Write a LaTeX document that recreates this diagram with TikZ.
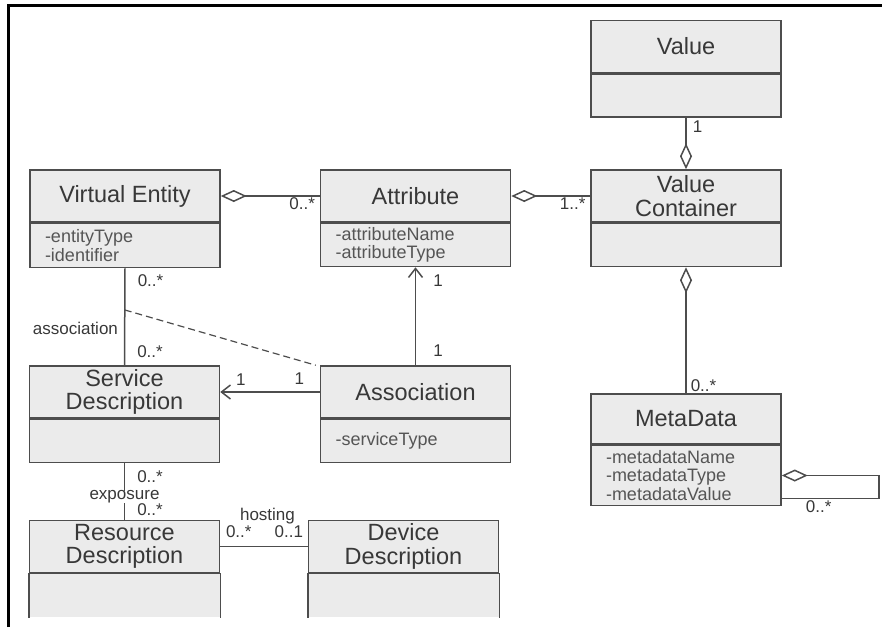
\documentclass[tikz,border=0pt]{standalone}
\usepackage{fontspec}
\setmainfont{Liberation Sans}
\usepackage{xcolor}
\usepackage{tikz}
\usetikzlibrary{positioning,arrows.meta}

\definecolor{boxfill}{HTML}{EBEBEB}
\definecolor{linec}{HTML}{4D4D4D}
\definecolor{textc}{HTML}{383838}
\definecolor{attc}{HTML}{555555}

\newcommand{\clsfont}{\fontsize{23.5}{23.5}\selectfont}
\newcommand{\attfont}{\fontsize{18}{18.5}\selectfont}
\newcommand{\mulfont}{\fontsize{17}{18}\selectfont}

\begin{document}
\begin{tikzpicture}[x=1pt, y=-1pt,
    hd/.style      ={draw=linec, fill=boxfill, line width=1.5pt, minimum width=190pt,
                     minimum height=52pt, inner sep=0pt, align=center,
                     font=\clsfont, text=textc},          % class name
    bd/.style      ={hd, minimum height=43pt, text width=160pt, align=left,
                     font=\attfont, text=attc},          % attribute part
    openbd/.style  ={bd, draw=none},                     % cut off at the bottom
    side/.style    ={draw=linec, line width=1.5pt},
    conn/.style    ={draw=linec, line width=1.5pt},
    agg/.style     ={conn, {Diamond[fill=white, length=26pt, width=12pt]}-},
    nav/.style     ={conn, -{Straight Barb[length=9pt, width=14pt]}},
    dashline/.style={conn, line width=1.2pt, dash pattern=on 7pt off 4pt},
    mult/.style    ={font=\mulfont, text=textc, inner sep=1pt},
    frame/.style   ={draw=black, line width=3pt}
  ]
    \useasboundingbox (0,0) rectangle (882,627);
    \draw[frame] (8.5,627) -- (8.5,5.5) -- (882,5.5);

    % --- classes ---
    \node[hd] (value) at (686,46.5) {Value};
    \node[bd, below=0pt of value] (value-b) {};
    \node[hd] (ve) at (125,196) {Virtual Entity};
    \node[bd, below=0pt of ve, minimum height=44pt] (ve-b) {-entityType\\-identifier};
    \node[hd] (attr) at (415.5,196) {Attribute};
    \node[bd, below=0pt of attr] (attr-b) {-attributeName\\-attributeType};
    \node[hd] (vc) at (686,196) {Value\\Container};
    \node[bd, below=0pt of vc] (vc-b) {};
    \node[hd] (sd) at (124.5,392) {Service\\Description};
    \node[bd, below=0pt of sd] (sd-b) {};
    \node[hd] (assoc) at (415.5,392) {Association};
    \node[bd, below=0pt of assoc] (assoc-b) {-serviceType};
    \node[hd, minimum height=50pt] (md) at (686,419) {MetaData};
    \node[bd, below=0pt of md, minimum height=60pt] (md-b) {-metadataName\\-metadataType\\-metadataValue};
    \node[hd] (rd) at (124.5,546.5) {Resource\\Description};
    \node[openbd, below=0pt of rd] (rd-b) {};
    \node[hd] (dd) at (403.5,546.5) {Device\\Description};
    \node[openbd, below=0pt of dd] (dd-b) {};
    \draw[side] (rd-b.south west) -- (rd-b.north west) -- (rd-b.north east) -- (rd-b.south east);
    \draw[side] (dd-b.south west) -- (dd-b.north west) -- (dd-b.north east) -- (dd-b.south east);

    % --- aggregations ---
    \draw[agg] (ve.east) -- (attr.west)
      node[mult, pos=1, anchor=north east, xshift=-3pt] {0..*};
    \draw[agg] (attr.east) -- (vc.west)
      node[mult, pos=1, anchor=north east, xshift=-3pt] {1..*};
    \draw[agg] (vc.north) -- (value-b.south)
      node[mult, pos=1, anchor=north west, xshift=5pt, yshift=-1pt] {1};
    \draw[agg] (vc-b.south) -- (md.north)
      node[mult, pos=1, anchor=south west, xshift=3pt] {0..*};
    \draw[agg] (md-b.east) -- ++(97,0) |- ([yshift=-23pt]md-b.east)
      node[mult, pos=0.81, below] {0..*};

    % --- associations ---
    \draw[conn] (ve-b.south) -- (sd.north)
      node[mult, pos=0, anchor=north west, xshift=11pt, yshift=-5pt] {0..*}
      node[mult, pos=0.62, left, inner sep=6pt] {association}
      node[mult, pos=1, anchor=south west, xshift=11pt, yshift=6pt] {0..*}
      coordinate[pos=0.43] (vesd);
    \draw[dashline] (vesd) -- ([xshift=-4pt]assoc.north west);
    \draw[nav] (assoc.west) -- (sd.east)
      node[mult, pos=1, anchor=south west, xshift=14pt, yshift=5pt] {1}
      node[mult, pos=0, anchor=south east, xshift=-14pt, yshift=6pt] {1};
    \draw[nav] (assoc.north) -- (attr-b.south)
      node[mult, pos=1, anchor=north west, xshift=16pt, yshift=-6pt] {1}
      node[mult, pos=0, anchor=south west, xshift=16pt, yshift=7pt] {1};
    \draw[conn] (sd-b.south) -- (rd.north)
      node[mult, pos=0, anchor=north west, xshift=11pt, yshift=-6pt] {0..*}
      node[mult, pos=0.6, fill=white, inner sep=0pt] {exposure}
      node[mult, pos=1, anchor=south west, xshift=11pt, yshift=2pt] {0..*};
    \draw[conn] (rd.east) -- (dd.west)
      node[mult, pos=0.54, anchor=south, yshift=21pt] {hosting}
      node[mult, pos=0, anchor=south west, xshift=4pt, yshift=7pt] {0..*}
      node[mult, pos=1, anchor=south east, xshift=-3pt, yshift=7pt] {0..1};
\end{tikzpicture}
\end{document}
